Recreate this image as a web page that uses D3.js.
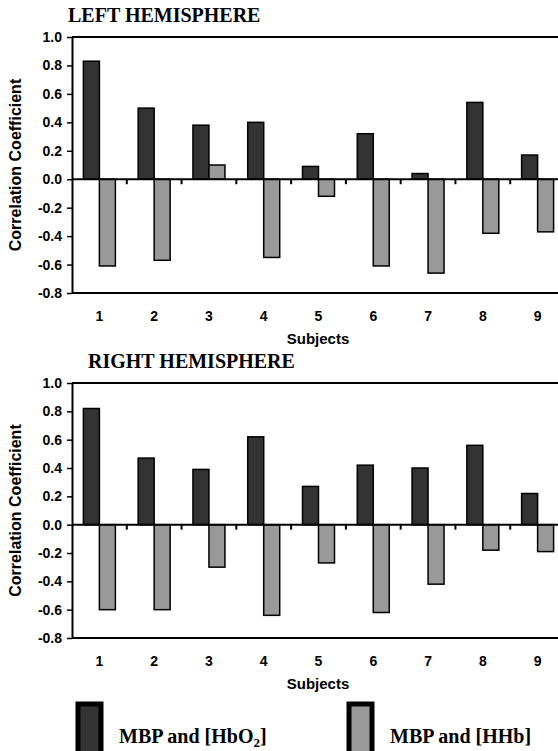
<!DOCTYPE html>
<html>
<head>
<meta charset="utf-8">
<script src="https://cdn.jsdelivr.net/npm/d3@7"></script>
<style>
	body { margin: 0; background: white; }
	.tick text { font-family: 'Liberation Sans', Arial, sans-serif; font-weight: bold; font-size: 14px; fill: black; }
</style>
</head>
<body>
<div id="chart"></div>
<script>
const subjects = ['1', '2', '3', '4', '5', '6', '7', '8', '9'],
	series = ['hbo2', 'hhb'],
	seriesLabels = ['MBP and [HbO', 'MBP and [HHb]'],
	leftHbO2 = [0.83, 0.50, 0.38, 0.40, 0.09, 0.32, 0.04, 0.54, 0.17],
	leftHHb = [-0.61, -0.57, 0.10, -0.55, -0.12, -0.61, -0.66, -0.38, -0.37],
	rightHbO2 = [0.82, 0.47, 0.39, 0.62, 0.27, 0.42, 0.40, 0.56, 0.22],
	rightHHb = [-0.60, -0.60, -0.30, -0.64, -0.27, -0.62, -0.42, -0.18, -0.19],
	yTicks = [-0.8, -0.6, -0.4, -0.2, 0, 0.2, 0.4, 0.6, 0.8, 1.0],
	colors = ['#333333', '#999999'],
	width = 558,
	height = 751;

const sans = "'Liberation Sans', Arial, sans-serif",
	serif = "'Liberation Serif', 'Times New Roman', serif";

let svg = d3.select('#chart')
	.append('svg')
	.attr('width', width)
	.attr('height', height);

// plot runs a little past the right edge, like the original
let x = d3.scaleBand()
	.domain(subjects)
	.range([72, 565])
	.paddingInner(0.416)
	.paddingOuter(0.208);

let xs = d3.scaleBand()
	.domain(series)
	.range([0, x.bandwidth()]);

const makeChart = (title, titleX, titleY, top, bottom, hbo2, hhb) => {
	let y = d3.scaleLinear()
		.domain([-0.8, 1.0])
		.range([bottom, top]);

	let g = svg.append('g');

	g.append('text')
		.attr('x', titleX)
		.attr('y', titleY)
		.style('font-family', serif)
		.style('font-weight', 'bold')
		.style('font-size', '20px')
		.text(title);

	let rows = subjects.map((s, i) => ({subject: s, values: [hbo2[i], hhb[i]]}));

	// bars
	g.selectAll('g.pair')
		.data(rows)
		.enter()
		.append('g')
			.attr('class', 'pair')
			.attr('transform', d => `translate(${x(d.subject)},0)`)
		.selectAll('rect')
		.data(d => d.values.map((v, j) => ({key: series[j], v: v, c: colors[j]})))
		.enter()
		.append('rect')
			.attr('x', d => xs(d.key))
			.attr('y', d => Math.min(y(d.v), y(0)))
			.attr('width', xs.bandwidth())
			.attr('height', d => Math.abs(y(d.v) - y(0)))
			.attr('fill', d => d.c)
			.attr('stroke', 'black')
			.attr('stroke-width', 1.5);

	// frame lines top and bottom
	[1.0, -0.8].forEach(v => {
		g.append('line')
			.attr('x1', x.range()[0]).attr('x2', x.range()[1])
			.attr('y1', y(v)).attr('y2', y(v))
			.attr('stroke', 'black')
			.attr('stroke-width', 2);
	});

	// zero line with little ticks between subjects
	g.append('line')
		.attr('x1', x.range()[0]).attr('x2', x.range()[1])
		.attr('y1', y(0)).attr('y2', y(0))
		.attr('stroke', 'black')
		.attr('stroke-width', 2);

	g.selectAll('line.sep')
		.data(subjects.slice(1))
		.enter()
		.append('line')
			.attr('class', 'sep')
			.attr('x1', d => x(d) - x.step() * x.paddingInner() / 2)
			.attr('x2', d => x(d) - x.step() * x.paddingInner() / 2)
			.attr('y1', y(0))
			.attr('y2', y(0) + 5)
			.attr('stroke', 'black')
			.attr('stroke-width', 2);

	// y axis
	let yAxis = d3.axisLeft(y)
		.tickValues(yTicks)
		.tickFormat(d => d.toFixed(1))
		.tickSize(5)
		.tickSizeOuter(0)
		.tickPadding(5);

	let ya = g.append('g')
		.attr('transform', `translate(${x.range()[0]},0)`)
		.call(yAxis);
	ya.select('.domain').attr('stroke-width', 2);
	ya.selectAll('.tick line').attr('stroke-width', 1.5);

	// subject labels under the plot
	let xAxis = d3.axisBottom(x).tickSize(0).tickPadding(18);
	let xa = g.append('g')
		.attr('transform', `translate(0,${y(-0.8)})`)
		.call(xAxis);
	xa.select('.domain').remove();

	g.append('text')
		.attr('x', 318)
		.attr('y', bottom + 51)
		.attr('text-anchor', 'middle')
		.style('font-family', sans)
		.style('font-weight', 'bold')
		.style('font-size', '15px')
		.text('Subjects');

	g.append('text')
		.attr('transform', `translate(21,${(top + bottom) / 2}) rotate(-90)`)
		.attr('text-anchor', 'middle')
		.style('font-family', sans)
		.style('font-weight', 'bold')
		.style('font-size', '16px')
		.text('Correlation Coefficient');
};

makeChart('LEFT HEMISPHERE', 68, 22, 37, 293, leftHbO2, leftHHb);
makeChart('RIGHT HEMISPHERE', 88, 368, 383, 638, rightHbO2, rightHHb);

// legend
let legendX = [78, 349],
	textX = [119, 390];

series.forEach((s, i) => {
	svg.append('rect')
		.attr('x', legendX[i])
		.attr('y', 704)
		.attr('width', 23)
		.attr('height', 50)
		.attr('fill', colors[i])
		.attr('stroke', 'black')
		.attr('stroke-width', 5);

	let t = svg.append('text')
		.attr('x', textX[i])
		.attr('y', 743)
		.style('font-family', serif)
		.style('font-weight', 'bold')
		.style('font-size', '20px')
		.text(seriesLabels[i]);

	if (s === 'hbo2') {
		t.append('tspan').attr('dy', 4).style('font-size', '13px').text('2');
		t.append('tspan').attr('dy', -4).text(']');
	}
});
</script>
</body>
</html>
